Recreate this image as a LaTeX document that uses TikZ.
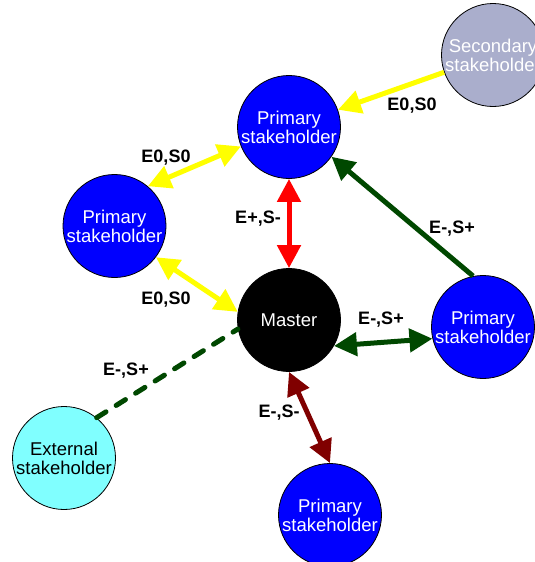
\documentclass[tikz,border=0pt]{standalone}
\usepackage{fontspec}
\setmainfont{Liberation Sans}
\usetikzlibrary{arrows.meta}
\definecolor{pblue}{RGB}{0,0,255}
\definecolor{secgray}{RGB}{170,174,204}
\definecolor{extcyan}{RGB}{128,255,255}
\definecolor{ayellow}{RGB}{255,255,0}
\definecolor{ared}{RGB}{255,0,0}
\definecolor{dgreen}{RGB}{0,72,0}
\definecolor{dred}{RGB}{128,0,0}
\begin{document}
\begin{tikzpicture}[x=1pt,y=-1pt,
  stake/.style={circle, draw=black, line width=0.8pt, minimum size=103pt, inner sep=0pt,
    align=center, font=\fontsize{18.5}{19}\selectfont, text=white},
  lab/.style={font=\bfseries\fontsize{18}{20}\selectfont, inner sep=0pt},
  conn/.style={line width=5pt, >={Triangle[length=23pt,width=23pt]}},
  dashconn/.style={line width=5pt, line cap=round, dash pattern=on 11pt off 12pt}]
\useasboundingbox (0,0) rectangle (535,562);
% nodes
\node[stake, fill=secgray] (sec) at (493,55) {Secondary\\stakeholder};
\node[stake, fill=pblue] (pt) at (289,127) {Primary\\stakeholder};
\node[stake, fill=pblue] (pl) at (114.5,226) {Primary\\stakeholder};
\node[stake, fill=black] (m) at (289,320) {Master};
\node[stake, fill=pblue] (pr) at (483,327) {Primary\\stakeholder};
\node[stake, fill=extcyan, text=black] (ext) at (64,458) {External\\stakeholder};
\node[stake, fill=pblue] (pb) at (330,515) {Primary\\stakeholder};
% connectors
\draw[conn, ayellow, ->] (sec) -- (pt);
\draw[conn, ayellow, <->] (pt.202) -- (pl.50);
\draw[conn, ayellow, <->] (pl.-37) -- (m.171);
\draw[conn, ared, <->] (pt) -- (m);
\draw[conn, dgreen, ->] (pr.101) -- (pt.-35);
\draw[conn, dgreen, <->] (m.-30) -- (pr.193);
\draw[conn, dred, <->] (m.-90) -- (pb.90);
\draw[dashconn, dgreen] (ext.51) -- (m.190);
% labels
\node[lab] (l1) at (412,106) {E0,S0};
\node[lab] (l2) at (166,158) {E0,S0};
\node[lab] (l3) at (166,300) {E0,S0};
\node[lab] (l4) at (258,219) {E+,S-};
\node[lab] (l5) at (452,229) {E-,S+};
\node[lab] (l6) at (381,320) {E-,S+};
\node[lab] (l7) at (279,413) {E-,S-};
\node[lab] (l8) at (126,371) {E-,S+};
\end{tikzpicture}
\end{document}
